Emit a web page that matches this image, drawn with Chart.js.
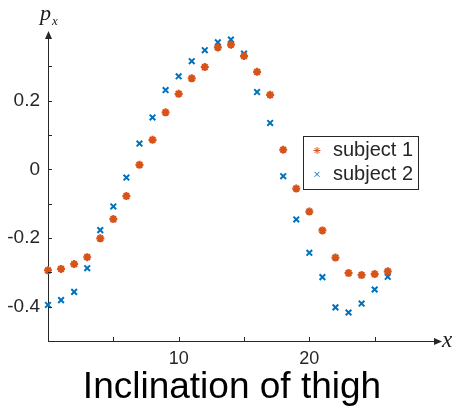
<!DOCTYPE html>
<html>
<head>
<meta charset="utf-8">
<script src="https://cdn.jsdelivr.net/npm/chart.js@4.4.1/dist/chart.umd.min.js"></script>
<style>
  html, body { margin: 0; padding: 0; background: #fff; }
  canvas { display: block; }
</style>
</head>
<body>
<canvas id="thighChart" width="460" height="413"></canvas>
<script>
  // ---- data ----
  const xValues = [0, 1, 2, 3, 4, 5, 6, 7, 8, 9, 10, 11, 12, 13, 14, 15, 16, 17, 18, 19, 20, 21, 22, 23, 24, 25, 26];
  const subject1 = [-0.294, -0.290, -0.276, -0.256, -0.201, -0.145, -0.078, 0.013, 0.086, 0.166, 0.220, 0.265, 0.298, 0.355, 0.363,
    0.330, 0.284, 0.217, 0.057, -0.056, -0.123, -0.178, -0.257, -0.302, -0.308, -0.305, -0.297];
  const subject2 = [-0.395, -0.381, -0.357, -0.288, -0.177, -0.108, -0.024, 0.075, 0.151, 0.231, 0.271, 0.315, 0.347, 0.370, 0.378,
    0.337, 0.225, 0.135, -0.020, -0.146, -0.243, -0.314, -0.402, -0.417, -0.391, -0.350, -0.313];
  const seriesLabels = ["subject 1", "subject 2"];

  const xTicks = [5, 10, 15, 20, 25];
  const xTickLabels = ["", "10", "", "20", ""];
  const yTicks = [-0.4, -0.3, -0.2, -0.1, 0, 0.1, 0.2, 0.3];
  const yTickLabels = ["-0.4", "", "-0.2", "", "0", "", "0.2", ""];

  const AXIS_COLOR = "#262626";
  const ORANGE = "#D95319";
  const BLUE = "#0072BD";

  function toPoints(ys) {
    return ys.map((y, i) => ({ x: xValues[i], y }));
  }

  // inward tick marks, arrow heads, axis symbols and the boxed legend
  const axisDecor = {
    id: "axisDecor",
    afterDraw(chart) {
      const { ctx, chartArea: a, scales } = chart;
      ctx.save();
      ctx.strokeStyle = AXIS_COLOR;
      ctx.fillStyle = AXIS_COLOR;
      ctx.lineWidth = 1;

      ctx.beginPath();
      scales.y.ticks.forEach((t) => {
        const py = Math.round(scales.y.getPixelForValue(t.value)) + 0.5;
        ctx.moveTo(a.left, py);
        ctx.lineTo(a.left + 4, py);
      });
      scales.x.ticks.forEach((t) => {
        const px = Math.round(scales.x.getPixelForValue(t.value)) + 0.5;
        ctx.moveTo(px, a.bottom);
        ctx.lineTo(px, a.bottom - 4);
      });
      ctx.stroke();

      // arrow heads
      const L = Math.round(a.left) + 0.5;
      const B = Math.round(a.bottom) + 0.5;
      ctx.beginPath();
      ctx.moveTo(L, a.top - 1);
      ctx.lineTo(L - 3.5, a.top + 7);
      ctx.lineTo(L + 3.5, a.top + 7);
      ctx.closePath();
      ctx.fill();
      ctx.beginPath();
      ctx.moveTo(a.right + 2, B);
      ctx.lineTo(a.right - 6, B - 3.5);
      ctx.lineTo(a.right - 6, B + 3.5);
      ctx.closePath();
      ctx.fill();

      // axis symbols
      ctx.fillStyle = "#1a1a1a";
      ctx.textBaseline = "alphabetic";
      ctx.textAlign = "left";
      ctx.font = "italic 22px 'Liberation Serif'";
      ctx.fillText("p", 40, 20);
      ctx.font = "italic 13px 'Liberation Serif'";
      ctx.fillText("x", 52, 25);
      ctx.font = "italic 23px 'Liberation Serif'";
      ctx.fillText("x", 442, 347);

      // legend
      ctx.fillStyle = "#fff";
      ctx.fillRect(303.5, 136.5, 115, 53);
      ctx.strokeStyle = AXIS_COLOR;
      ctx.strokeRect(303.5, 136.5, 115, 53);
      const rows = [150.5, 174.3];
      chart.data.datasets.forEach((ds, i) => {
        ctx.strokeStyle = ds.borderColor;
        ctx.fillStyle = ds.borderColor;
        Chart.helpers.drawPoint(ctx, {
          pointStyle: ds.pointStyle,
          radius: ds.pointRadius - 0.5,
          borderWidth: ds.borderWidth,
          rotation: 0
        }, 317, rows[i]);
        ctx.fillStyle = AXIS_COLOR;
        ctx.font = "20px 'Liberation Sans'";
        ctx.textBaseline = "middle";
        ctx.fillText(ds.label, 333, rows[i]);
      });
      ctx.restore();
    }
  };

  new Chart(document.getElementById("thighChart"), {
    type: "scatter",
    data: {
      datasets: [
        {
          label: seriesLabels[0],
          data: toPoints(subject1),
          pointStyle: "star",
          pointRadius: 4,
          borderWidth: 2.2,
          borderColor: ORANGE,
          backgroundColor: ORANGE,
          clip: false
        },
        {
          label: seriesLabels[1],
          data: toPoints(subject2),
          pointStyle: "crossRot",
          pointRadius: 4,
          borderWidth: 2,
          borderColor: BLUE,
          backgroundColor: BLUE,
          clip: false
        }
      ]
    },
    options: {
      responsive: false,
      devicePixelRatio: 1,
      animation: false,
      layout: { padding: { top: 32, right: 0, left: 4, bottom: 0 } },
      scales: {
        x: {
          type: "linear",
          min: 0,
          max: 30,
          afterFit: (s) => { s.height = 28; },
          afterBuildTicks: (s) => { s.ticks = xTicks.map((v) => ({ value: v })); },
          grid: { display: false, drawTicks: false },
          border: { display: true, color: AXIS_COLOR, width: 1 },
          ticks: {
            padding: 7,
            color: AXIS_COLOR,
            font: { family: "Liberation Sans", size: 18 },
            maxRotation: 0,
            callback: (v, i) => xTickLabels[i]
          }
        },
        y: {
          type: "linear",
          min: -0.5,
          max: 0.4,
          afterFit: (s) => { s.width = 44; },
          afterBuildTicks: (s) => { s.ticks = yTicks.map((v) => ({ value: v })); },
          grid: { display: false, drawTicks: false },
          border: { display: true, color: AXIS_COLOR, width: 1 },
          ticks: {
            padding: 8,
            color: AXIS_COLOR,
            font: { family: "Liberation Sans", size: 19 },
            callback: (v, i) => yTickLabels[i]
          }
        },
        // empty strip on the right, room for the x arrow and symbol
        yRight: {
          type: "linear",
          position: "right",
          afterFit: (s) => { s.width = 20; },
          grid: { display: false },
          border: { display: false },
          ticks: { display: false }
        }
      },
      plugins: {
        legend: { display: false },
        tooltip: { enabled: false },
        title: {
          display: true,
          text: "Inclination of thigh",
          position: "bottom",
          color: "#000",
          font: { family: "Liberation Sans", size: 37, weight: "normal", lineHeight: 1 },
          padding: { top: 0, bottom: 7 }
        }
      }
    },
    plugins: [axisDecor]
  });
</script>
</body>
</html>
